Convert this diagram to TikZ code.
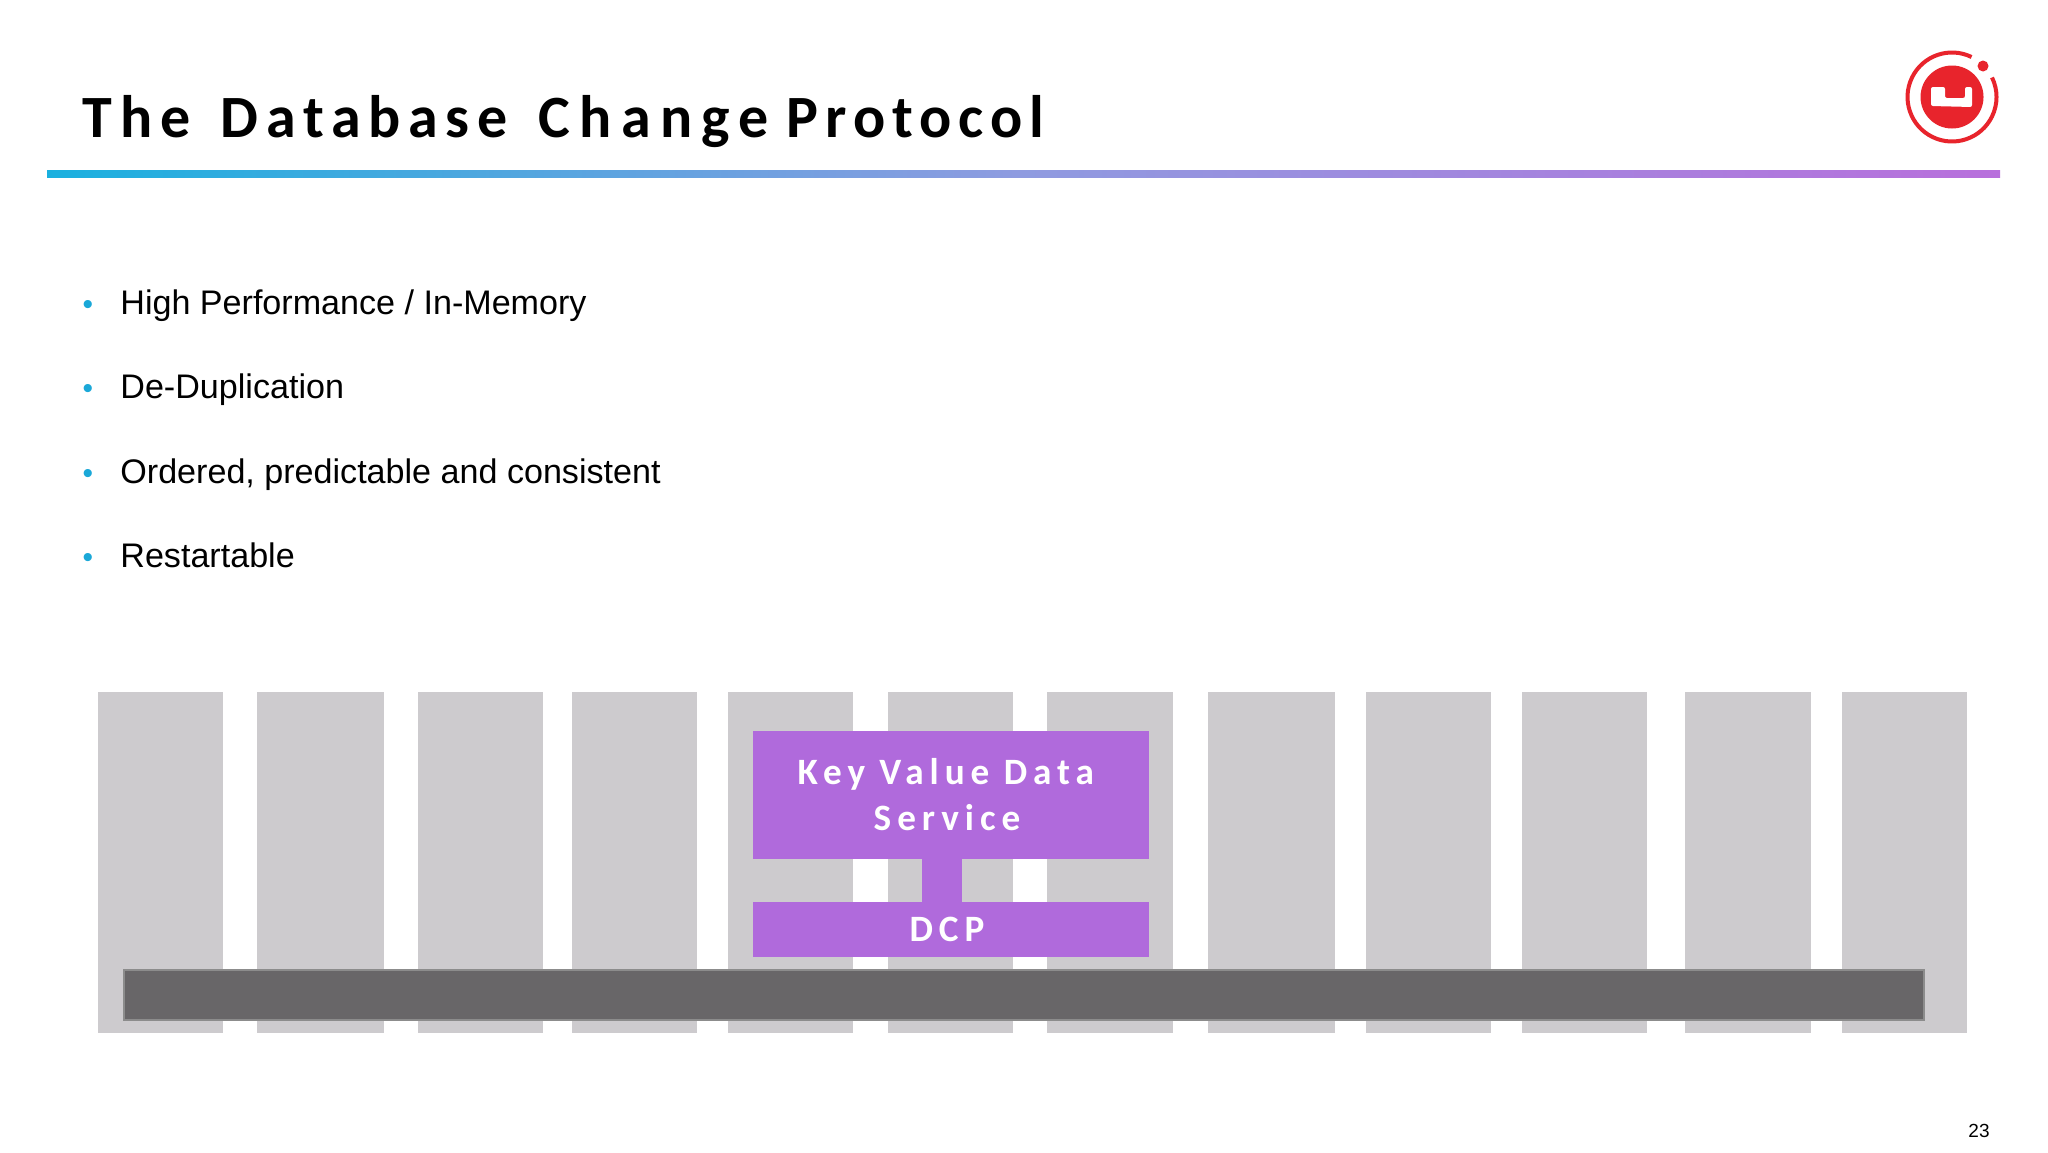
\documentclass[tikz,border=0pt]{standalone}
\usepackage{fontspec}
\setmainfont{Liberation Sans}
\newfontfamily\ttl[LetterSpace=13]{Carlito}
\newfontfamily\boxf[LetterSpace=16]{Carlito}
\definecolor{colgray}{HTML}{CDCBCE}
\definecolor{barfill}{HTML}{686668}
\definecolor{barline}{HTML}{8C8C8C}
\definecolor{violet2}{HTML}{B06ADC}
\definecolor{bul}{HTML}{1AA8D8}
\definecolor{logored}{HTML}{E8242C}
\definecolor{ruleA}{HTML}{1AB0DF}
\definecolor{ruleB}{HTML}{8F9BE0}
\definecolor{ruleC}{HTML}{B86FDC}
\tikzset{
  colbox/.style={rectangle,fill=colgray,inner sep=0pt,outer sep=0pt,anchor=north west},
  pbox/.style={rectangle,fill=violet2,inner sep=0pt,outer sep=0pt,text=white,align=center,font=\boxf\bfseries\fontsize{18.6}{23}\selectfont},
  bullet/.style={anchor=base,text=bul,inner sep=0pt,font=\fontsize{15}{15}\selectfont},
  item/.style={anchor=base west,inner sep=0pt,font=\fontsize{17.05}{18}\selectfont},
}
\begin{document}
\begin{tikzpicture}[x=0.5pt,y=-0.5pt]
\useasboundingbox (0,0) rectangle (2048,1152);
\fill[white] (0,0) rectangle (2048,1152);
% title and rule
\node[anchor=base west,inner sep=0pt,font=\ttl\bfseries\fontsize{30}{30}\selectfont] (title) at (82.5,137) {The\hspace{4.3pt} Database\hspace{4.8pt} {\addfontfeature{LetterSpace=15.4}Change}\hspace{-1.7pt} {\addfontfeature{LetterSpace=11.6}Protocol}};
\shade[left color=ruleA,right color=ruleC,middle color=ruleB] (47,170) rectangle (2000,177);
% logo
\coordinate (lc) at (1952,97);
\fill[logored] (lc) circle[radius=31.5];
\draw[logored,line width=2pt] (lc) ++(-64:44.5) arc[start angle=-64,end angle=-386,radius=44.5];
\fill[logored] (1983,66) circle[radius=5.5];
\fill[white,rounded corners=1pt] (1931,87) -- (1945,87) -- (1945,98) -- (1965,98) -- (1965,87) -- (1972,87) -- (1972,107) -- (1931,106) -- cycle;
% bullets
\foreach \n/\y/\t in {a/314/{High Performance / In-Memory},b/398/De-Duplication,c/483/{Ordered, predictable and consistent},d/567/Restartable}{
  \node[bullet] (b\n) at (88,\y) {•};
  \node[item] (t\n) at (120,\y) {\t};
}
% columns
\foreach \i/\a/\b in {1/98/223,2/257/384,3/418/543,4/572/697,5/728/853,6/888/1013,7/1047/1173,8/1208/1335,9/1366/1491,10/1522/1647,11/1685/1811,12/1842/1967}{
  \node[colbox,minimum width=\b*0.5pt-\a*0.5pt,minimum height=170.5pt] (col\i) at (\a,692) {};
}
% bar
\node[rectangle,fill=barfill,draw=barline,line width=0.8pt,inner sep=0pt,anchor=north west,minimum width=900pt,minimum height=25pt] (bar) at (123,969) {};
% purple boxes
\node[pbox,minimum width=198pt,minimum height=64pt,anchor=north west] (kv) at (753,731) {Key Value Data\hspace{5.2pt}\mbox{}\\Service\hspace{4pt}\mbox{}};
\node[pbox,minimum width=198pt,minimum height=27.5pt,anchor=north west] (dcp) at (753,902) {DCP\hspace{4pt}};
\draw[violet2,line width=20pt] ([xshift=-4.5pt]kv.south) -- ([xshift=-4.5pt]dcp.north);
% page number
\node[anchor=base,inner sep=0pt,font=\fontsize{9.5}{10}\selectfont] (pg) at (1979,1137) {23};
\end{tikzpicture}
\end{document}
